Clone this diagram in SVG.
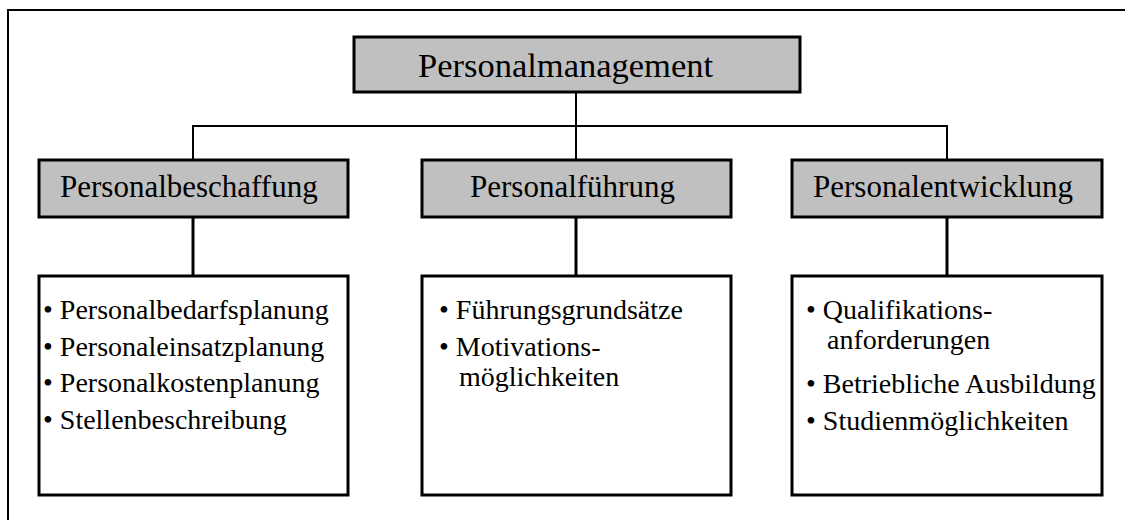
<svg xmlns="http://www.w3.org/2000/svg" width="1125" height="520" viewBox="0 0 1125 520">
  <style>
    text { font-family: "Liberation Serif", "Times New Roman", serif; fill: #000; }
    .head { fill: #c0c0c0; stroke: #000; stroke-width: 3; }
    .list { fill: #fff; stroke: #000; stroke-width: 3; }
    .t1 { font-size: 34.5px; }
    .t2 { font-size: 31px; }
    .t3 { font-size: 28px; }
    .thin { stroke: #000; stroke-width: 2; fill: none; }
    .thick { stroke: #000; stroke-width: 3; fill: none; }
  </style>
  <rect width="1125" height="520" fill="#fff"/>

  <!-- frame -->
  <path d="M8,520 V10 H1125" class="thin"/>

  <!-- connectors -->
  <g id="connectors">
    <path d="M576,92 V160" class="thin"/>
    <path d="M193,160 V126 H947 V160" class="thin"/>
    <path d="M193,217 V276" class="thick"/>
    <path d="M576,217 V276" class="thick"/>
    <path d="M947,217 V276" class="thick"/>
  </g>

  <g id="personalmanagement">
    <rect x="354" y="37" width="446" height="55" class="head"/>
    <text x="418" y="77" class="t1">Personalmanagement</text>
  </g>

  <g id="personalbeschaffung">
    <rect x="39" y="160" width="309" height="57" class="head"/>
    <text x="60" y="197" class="t2">Personalbeschaffung</text>
  </g>

  <g id="personalfuehrung">
    <rect x="422" y="160" width="309" height="57" class="head"/>
    <text x="470" y="197" class="t2">Personalführung</text>
  </g>

  <g id="personalentwicklung">
    <rect x="792" y="160" width="310" height="57" class="head"/>
    <text x="813" y="197" class="t2">Personalentwicklung</text>
  </g>

  <g id="beschaffung-liste">
    <rect x="39" y="276" width="309" height="219" class="list"/>
    <text class="t3" x="43" y="319">• Personalbedarfsplanung</text>
    <text class="t3" x="43" y="356">• Personaleinsatzplanung</text>
    <text class="t3" x="43" y="392">• Personalkostenplanung</text>
    <text class="t3" x="43" y="429">• Stellenbeschreibung</text>
  </g>

  <g id="fuehrung-liste">
    <rect x="422" y="276" width="309" height="219" class="list"/>
    <text class="t3" x="439" y="319">• Führungsgrundsätze</text>
    <text class="t3" x="439" y="356">• Motivations-</text>
    <text class="t3" x="459" y="386">möglichkeiten</text>
  </g>

  <g id="entwicklung-liste">
    <rect x="792" y="276" width="310" height="219" class="list"/>
    <text class="t3" x="806" y="319">• Qualifikations-</text>
    <text class="t3" x="827" y="349">anforderungen</text>
    <text class="t3" x="806" y="393">• Betriebliche Ausbildung</text>
    <text class="t3" x="806" y="430">• Studienmöglichkeiten</text>
  </g>
</svg>
